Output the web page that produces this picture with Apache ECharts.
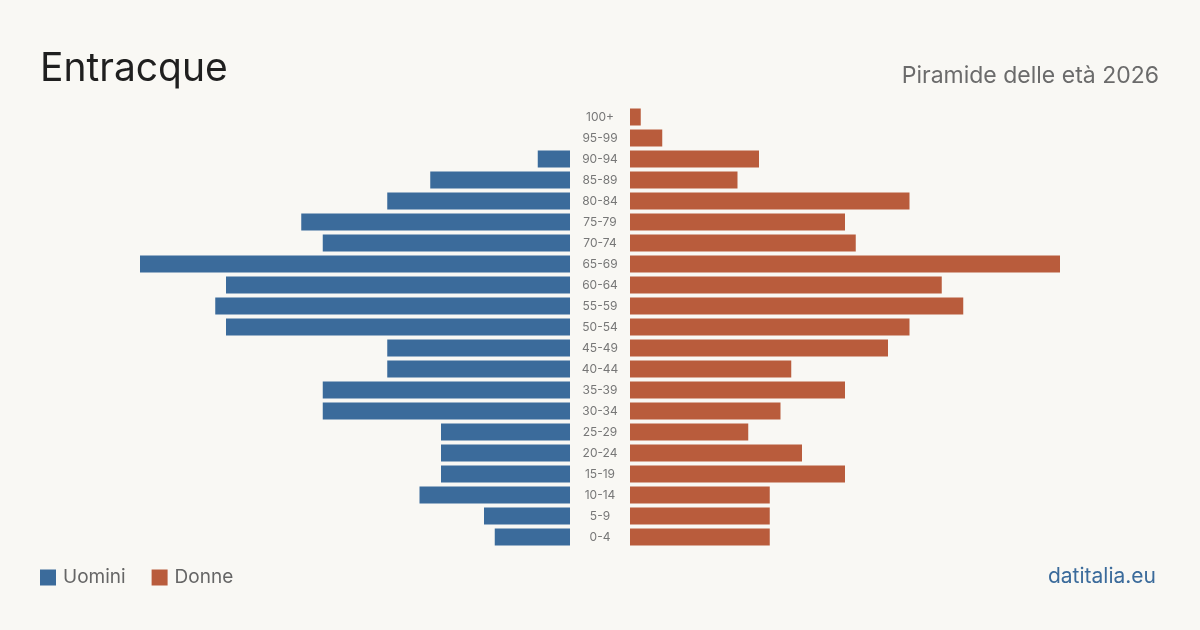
<!DOCTYPE html>
<html>
<head>
<meta charset="utf-8">
<script src="https://cdn.jsdelivr.net/npm/echarts@6/dist/echarts.min.js"></script>
<style>
html,body{margin:0;padding:0;background:#f9f8f4;}
#c{width:1200px;height:630px;}
</style>
</head>
<body>
<div id="c"></div>
<script>
const categories = ['0-4','5-9','10-14','15-19','20-24','25-29','30-34','35-39','40-44','45-49','50-54','55-59','60-64','65-69','70-74','75-79','80-84','85-89','90-94','95-99','100+'];
const uomini = [7,8,14,12,12,12,23,23,17,17,32,33,32,40,23,25,17,13,3,0,0];
const donne  = [13,13,13,20,16,11,14,20,15,24,26,31,29,40,21,20,26,10,12,3,1];
const maxVal = 40;

const chart = echarts.init(document.getElementById('c'));
const font = 'Inter, "Noto Sans", sans-serif';
chart.setOption({
  backgroundColor: '#f9f8f4',
  animation: false,
  textStyle: { fontFamily: font },
  title: [
    { text: 'Entracque', left: 40, top: 50, padding: 0, textStyle: { fontSize: 39, fontWeight: 'normal', color: '#1f1f1f', fontFamily: font } },
    { text: 'Piramide delle età 2026', right: 41, top: 65, padding: 0, textStyle: { fontSize: 23, fontWeight: 'normal', color: '#6b6b6b', fontFamily: font } },
    { text: 'datitalia.eu', right: 44, top: 566, padding: 0, textStyle: { fontSize: 21, fontWeight: 'normal', color: '#3b6b9b', fontFamily: font } }
  ],
  legend: {
    left: 35, top: 563, itemWidth: 16, itemHeight: 16, itemGap: 26,
    icon: 'rect',
    textStyle: { fontSize: 19, color: '#666', fontFamily: font, padding: [0,0,0,2] },
    data: ['Uomini', 'Donne']
  },
  grid: [
    { left: 140, width: 430, top: 106.5, height: 441, containLabel: false },
    { left: 630, width: 430, top: 106.5, height: 441, containLabel: false }
  ],
  xAxis: [
    { gridIndex: 0, type: 'value', inverse: true, min: 0, max: maxVal, show: false },
    { gridIndex: 1, type: 'value', min: 0, max: maxVal, show: false }
  ],
  yAxis: [
    { gridIndex: 0, type: 'category', data: categories, position: 'right',
      axisLine: { show: false }, axisTick: { show: false },
      axisLabel: { show: true, margin: 30, align: 'center', fontSize: 12, color: '#777', fontFamily: font } },
    { gridIndex: 1, type: 'category', data: categories,
      axisLine: { show: false }, axisTick: { show: false }, axisLabel: { show: false } }
  ],
  series: [
    { name: 'Uomini', type: 'bar', xAxisIndex: 0, yAxisIndex: 0, data: uomini, barWidth: 17, itemStyle: { color: '#3b6b9b' } },
    { name: 'Donne', type: 'bar', xAxisIndex: 1, yAxisIndex: 1, data: donne, barWidth: 17, itemStyle: { color: '#b95c3c' } }
  ]
});
</script>
</body>
</html>
